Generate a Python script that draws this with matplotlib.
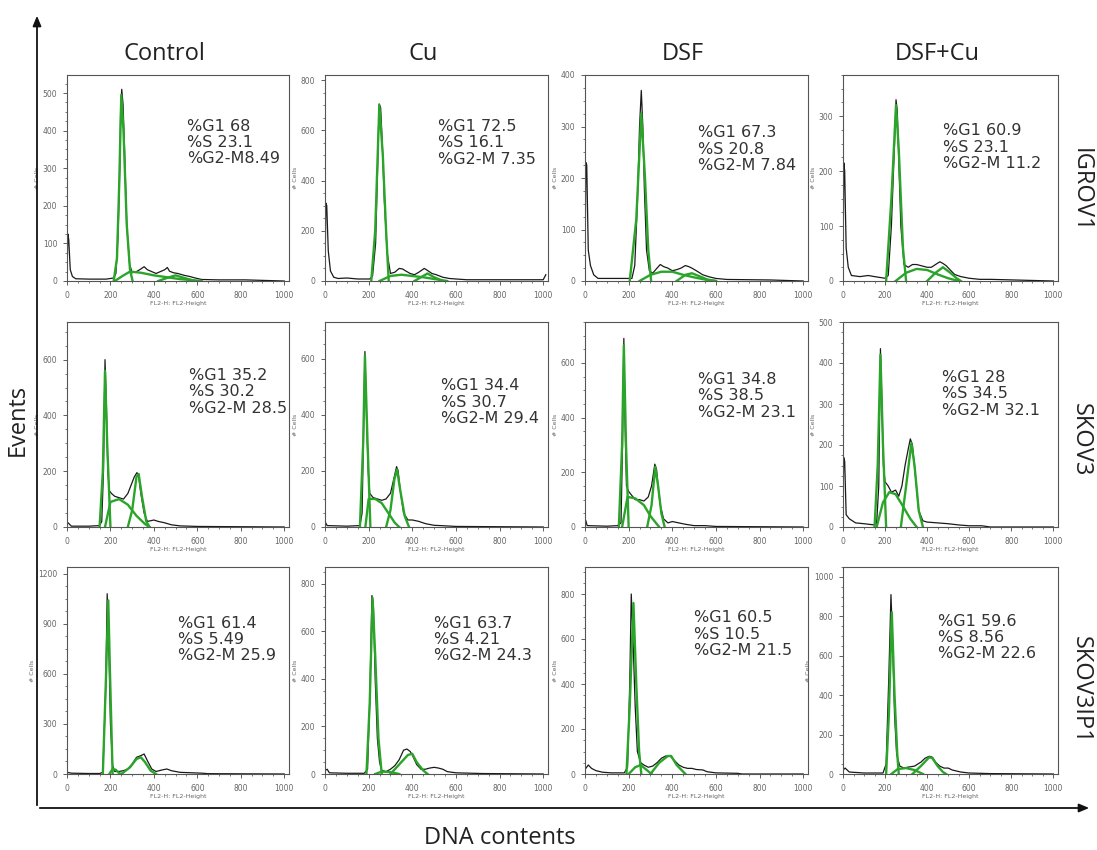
import matplotlib
matplotlib.use("Agg")
import matplotlib.pyplot as plt
from matplotlib.ticker import MultipleLocator, AutoMinorLocator

# panel grid: rows = cell lines, columns = treatments
treatments = ["Control", "Cu", "DSF", "DSF+Cu"]
cell_lines = ["IGROV1", "SKOV3", "SKOV3IP1"]

# cell-cycle percentages shown on each panel
pct_g1 = [[68, 72.5, 67.3, 60.9], [35.2, 34.4, 34.8, 28], [61.4, 63.7, 60.5, 59.6]]
pct_s = [[23.1, 16.1, 20.8, 23.1], [30.2, 30.7, 38.5, 34.5], [5.49, 4.21, 10.5, 8.56]]
pct_g2m = [[8.49, 7.35, 7.84, 11.2], [28.5, 29.4, 23.1, 32.1], [25.9, 24.3, 21.5, 22.6]]

# y axis range / tick step of each panel (# cells)
y_max = [[548, 820, 400, 375], [735, 730, 750, 500], [1240, 870, 920, 1050]]
y_step = [[100, 200, 100, 100], [200, 200, 200, 100], [300, 200, 200, 200]]

# measured histograms (FL2-H channel, # cells), one list per treatment
black_igrov1 = [
    [(0, 20), (4, 125), (8, 110), (15, 30), (25, 12), (40, 6), (100, 5), (180, 5), (215, 8), (225, 20),
     (235, 120), (243, 300), (247, 460), (252, 510), (258, 470), (265, 350), (275, 150), (288, 45),
     (300, 22), (320, 25), (340, 32), (355, 38), (370, 30), (390, 25), (410, 20), (430, 25), (450, 30),
     (462, 36), (472, 26), (490, 22), (510, 20), (540, 15), (565, 12), (590, 8), (620, 4), (700, 3),
     (820, 3), (1000, 0)],
    [(0, 30), (4, 310), (8, 300), (15, 120), (25, 40), (40, 15), (60, 10), (100, 12), (150, 8),
     (205, 8), (218, 20), (232, 150), (242, 480), (248, 705), (255, 690), (262, 560), (272, 320),
     (285, 110), (300, 30), (320, 35), (340, 50), (355, 48), (370, 40), (390, 30), (410, 25), (430, 35),
     (455, 50), (470, 42), (490, 30), (510, 25), (540, 15), (570, 10), (600, 8), (650, 5), (800, 5),
     (1000, 5), (1012, 25)],
    [(0, 20), (4, 230), (8, 225), (15, 60), (25, 30), (40, 12), (60, 5), (120, 5), (215, 5), (228, 30),
     (240, 150), (250, 300), (258, 370), (265, 300), (272, 180), (282, 60), (295, 20), (310, 15),
     (330, 25), (345, 32), (360, 28), (380, 25), (400, 20), (420, 22), (440, 25), (460, 30), (475, 28),
     (490, 25), (510, 20), (540, 12), (570, 8), (600, 5), (650, 3), (850, 2), (1000, 0)],
    [(0, 20), (4, 215), (8, 200), (15, 60), (25, 25), (40, 10), (80, 8), (120, 10), (150, 8), (200, 5),
     (215, 10), (230, 100), (245, 250), (252, 330), (258, 310), (265, 220), (275, 100), (290, 30),
     (310, 25), (330, 30), (350, 30), (370, 28), (400, 25), (420, 25), (440, 30), (460, 35), (475, 32),
     (490, 28), (510, 20), (530, 12), (560, 8), (600, 5), (650, 3), (700, 3), (1000, 0)],
]
black_skov3 = [
    [(0, 10), (5, 15), (20, 3), (100, 3), (150, 5), (160, 20), (168, 200), (175, 600), (181, 450),
     (188, 200), (195, 130), (205, 120), (220, 110), (240, 105), (260, 100), (280, 120), (295, 150),
     (310, 180), (322, 195), (330, 180), (340, 120), (355, 50), (370, 20), (400, 25), (420, 20),
     (450, 15), (480, 8), (520, 4), (600, 2), (1000, 0)],
    [(0, 10), (3, 15), (10, 5), (100, 3), (160, 5), (170, 50), (178, 400), (183, 625), (190, 400),
     (198, 200), (205, 120), (220, 105), (240, 100), (260, 95), (280, 100), (300, 120), (315, 170),
     (328, 215), (335, 200), (345, 130), (360, 50), (380, 25), (400, 25), (430, 20), (460, 12),
     (500, 6), (530, 5), (600, 2), (1000, 0)],
    [(0, 10), (3, 25), (10, 5), (100, 3), (150, 5), (165, 15), (172, 300), (178, 690), (183, 400),
     (190, 150), (200, 130), (210, 120), (230, 100), (250, 100), (270, 95), (290, 110), (305, 150),
     (320, 230), (328, 210), (335, 150), (345, 80), (360, 30), (380, 15), (400, 20), (430, 15),
     (460, 10), (500, 5), (550, 5), (600, 2), (1000, 0)],
    [(0, 20), (3, 170), (8, 160), (15, 30), (30, 20), (60, 10), (100, 8), (150, 5), (160, 10),
     (170, 100), (178, 435), (185, 300), (192, 150), (200, 110), (215, 100), (230, 85), (250, 90),
     (265, 75), (280, 100), (295, 150), (310, 190), (320, 215), (330, 200), (345, 120), (360, 40),
     (380, 15), (400, 12), (450, 10), (500, 8), (550, 5), (600, 3), (660, 3), (700, 0), (1000, 0)],
]
black_skov3ip1 = [
    [(0, 10), (20, 5), (100, 3), (150, 3), (165, 10), (178, 500), (185, 1080), (192, 800), (200, 300),
     (210, 50), (220, 15), (240, 15), (260, 20), (280, 30), (300, 60), (320, 100), (340, 110),
     (355, 120), (370, 80), (390, 30), (410, 15), (440, 25), (460, 30), (480, 20), (520, 10), (560, 8),
     (620, 5), (650, 2), (1000, 0)],
    [(0, 15), (10, 20), (20, 5), (100, 3), (180, 3), (195, 20), (205, 300), (215, 750), (222, 700),
     (230, 400), (240, 150), (250, 50), (260, 15), (280, 10), (300, 20), (320, 35), (340, 60),
     (360, 100), (375, 105), (390, 95), (400, 80), (420, 40), (440, 20), (460, 20), (480, 25),
     (500, 28), (520, 25), (540, 20), (560, 10), (600, 5), (720, 2), (1000, 0)],
    [(0, 20), (15, 40), (30, 25), (50, 15), (80, 8), (120, 5), (180, 5), (195, 30), (205, 400),
     (212, 800), (220, 600), (230, 300), (240, 100), (255, 50), (270, 40), (290, 30), (310, 35),
     (330, 50), (350, 70), (370, 80), (390, 80), (410, 60), (430, 40), (450, 30), (470, 25), (490, 25),
     (510, 20), (540, 18), (560, 10), (600, 5), (700, 3), (720, 0), (1000, 0)],
    [(0, 20), (10, 30), (30, 10), (100, 5), (190, 5), (205, 50), (218, 500), (228, 910), (235, 700),
     (245, 300), (255, 100), (270, 40), (290, 30), (310, 35), (340, 40), (370, 60), (390, 80),
     (410, 90), (425, 85), (440, 60), (460, 40), (480, 30), (500, 30), (520, 20), (560, 10), (600, 5),
     (700, 2), (1000, 0)],
]

# fitted G1 / S / G2-M components (green), one list per treatment
g1_igrov1 = [
    [(215, 0), (230, 60), (240, 250), (250, 495), (260, 400), (275, 150), (290, 30), (302, 0)],
    [(212, 0), (230, 200), (249, 700), (265, 500), (280, 200), (292, 0)],
    [(205, 0), (235, 120), (258, 325), (275, 200), (290, 60), (303, 0)],
    [(205, 0), (230, 150), (252, 320), (265, 240), (285, 60), (300, 0)],
]
s_igrov1 = [
    [(220, 0), (260, 15), (290, 25), (340, 22), (400, 15), (460, 10), (520, 5), (580, 2), (620, 0)],
    [(250, 0), (300, 20), (350, 25), (400, 20), (450, 15), (500, 8), (560, 0)],
    [(250, 0), (300, 12), (350, 18), (400, 18), (450, 12), (500, 7), (560, 2), (600, 0)],
    [(250, 0), (300, 15), (350, 22), (400, 20), (450, 12), (500, 5), (550, 0)],
]
g2m_igrov1 = [
    [(420, 0), (460, 8), (500, 15), (540, 8), (590, 0)],
    [(410, 0), (440, 15), (470, 30), (500, 15), (540, 0)],
    [(420, 0), (460, 12), (490, 15), (520, 10), (560, 3), (600, 0)],
    [(400, 0), (440, 15), (475, 25), (510, 15), (540, 5), (560, 0)],
]
g1_skov3 = [
    [(150, 0), (165, 200), (175, 560), (185, 300), (200, 0)],
    [(160, 0), (175, 300), (183, 610), (195, 300), (208, 0)],
    [(155, 0), (170, 300), (178, 665), (188, 300), (200, 0)],
    [(150, 0), (165, 150), (178, 420), (190, 200), (205, 0)],
]
s_skov3 = [
    [(175, 0), (200, 90), (240, 100), (280, 80), (320, 40), (360, 10), (380, 0)],
    [(185, 0), (200, 100), (230, 100), (260, 85), (290, 50), (320, 15), (340, 0)],
    [(170, 0), (195, 110), (230, 105), (270, 80), (300, 40), (340, 0)],
    [(160, 0), (190, 60), (220, 85), (250, 80), (280, 55), (320, 20), (350, 0)],
]
g2m_skov3 = [
    [(280, 0), (300, 60), (320, 180), (330, 190), (345, 110), (365, 20), (380, 0)],
    [(280, 0), (300, 60), (318, 170), (330, 205), (345, 130), (365, 40), (385, 0)],
    [(285, 0), (305, 80), (322, 220), (335, 150), (350, 50), (365, 0)],
    [(275, 0), (300, 100), (325, 205), (340, 150), (360, 40), (380, 0)],
]
g1_skov3ip1 = [
    [(165, 0), (180, 600), (190, 1040), (198, 600), (210, 0)],
    [(190, 0), (205, 300), (218, 740), (230, 500), (245, 150), (260, 0)],
    [(190, 0), (205, 300), (222, 760), (235, 400), (248, 100), (258, 0)],
    [(205, 0), (218, 300), (232, 820), (245, 400), (258, 100), (265, 0)],
]
s_skov3ip1 = [
    [(195, 0), (210, 30), (225, 25), (240, 5), (250, 0)],
    [(230, 0), (260, 10), (300, 8), (340, 0)],
    [(200, 0), (230, 30), (255, 40), (280, 20), (305, 0)],
    [(230, 0), (260, 25), (300, 30), (340, 20), (380, 0)],
]
g2m_skov3ip1 = [
    [(250, 0), (290, 40), (320, 90), (340, 100), (360, 70), (385, 20), (410, 0)],
    [(300, 0), (340, 40), (380, 80), (400, 85), (420, 50), (450, 15), (470, 0)],
    [(300, 0), (340, 50), (380, 80), (395, 80), (420, 40), (450, 10), (460, 0)],
    [(330, 0), (370, 40), (410, 85), (425, 80), (450, 40), (475, 10), (490, 0)],
]

black = [black_igrov1, black_skov3, black_skov3ip1]
fits = [(g1_igrov1, s_igrov1, g2m_igrov1),
        (g1_skov3, s_skov3, g2m_skov3),
        (g1_skov3ip1, s_skov3ip1, g2m_skov3ip1)]

# layout (pixels of the 1097x850 figure)
W, H = 1097, 850
col_left = [67, 325, 585, 843]
col_right = [289, 548, 808, 1058]
row_top = [75, 322, 567]
row_bottom = [281, 527, 774]
text_x = [[0.54, 0.507, 0.507, 0.467], [0.55, 0.52, 0.507, 0.46], [0.50, 0.49, 0.49, 0.44]]
text_y = [[0.743, 0.74, 0.71, 0.72], [0.73, 0.68, 0.71, 0.72], [0.72, 0.72, 0.745, 0.73]]
row_label_y = [190, 440, 690]

GREEN = "#2aa52a"
GREY = "#666666"

fig = plt.figure(figsize=(W / 100, H / 100), dpi=100)

for r in range(3):
    for c in range(4):
        ax = fig.add_axes([col_left[c] / W, 1 - row_bottom[r] / H,
                           (col_right[c] - col_left[c]) / W, (row_bottom[r] - row_top[r]) / H])
        pts = black[r][c]
        ax.plot([p[0] for p in pts], [p[1] for p in pts], color="#1a1a1a", lw=0.9)
        for comp in fits[r]:
            cp = comp[c]
            ax.plot([p[0] for p in cp], [p[1] for p in cp], color=GREEN, lw=1.7)

        ax.set_xlim(0, 1022)
        ax.set_ylim(0, y_max[r][c])
        ax.xaxis.set_major_locator(MultipleLocator(200))
        ax.xaxis.set_minor_locator(AutoMinorLocator(4))
        ax.yaxis.set_major_locator(MultipleLocator(y_step[r][c]))
        ax.yaxis.set_minor_locator(AutoMinorLocator(4))
        ax.tick_params(which="major", length=3, width=0.6, labelsize=5.5, colors="#444444",
                       labelcolor=GREY, pad=4)
        ax.tick_params(which="minor", length=1.5, width=0.5, colors="#444444")
        for sp in ax.spines.values():
            sp.set_color("#555555")
            sp.set_linewidth(0.8)
        ax.set_xlabel("FL2-H: FL2-Height", fontsize=4.5, color=GREY, labelpad=1)
        ax.set_ylabel("# Cells", fontsize=4.5, color=GREY, labelpad=2)

        sep = "" if (r, c) == (0, 0) else " "
        label = (f"%G1 {pct_g1[r][c]:g}\n%S {pct_s[r][c]:g}\n"
                 f"%G2-M{sep}{pct_g2m[r][c]:g}")
        ax.text(text_x[r][c], text_y[r][c] + 0.045, label, transform=ax.transAxes,
                fontsize=11.5, color="#333333", va="top", ha="left", linespacing=1.1,
                family="DejaVu Sans")

        if r == 0:
            ax.text(0.44, 1.1, treatments[c], transform=ax.transAxes, ha="center",
                    va="center", fontsize=17, color="#222222", family="Open Sans")

for r in range(3):
    fig.text(1081 / W, 1 - row_label_y[r] / H, cell_lines[r], rotation=-90, ha="center",
             va="center", fontsize=17, color="#222222", family="Open Sans")

# outer axes arrows
fig.add_artist(matplotlib.patches.FancyArrowPatch(
    (37 / W, 1 - 808 / H), (37 / W, 1 - 13 / H), transform=fig.transFigure,
    arrowstyle="-|>,head_length=6,head_width=2.5", color="#111111", lw=1.3))
fig.add_artist(matplotlib.patches.FancyArrowPatch(
    (37 / W, 1 - 808 / H), (1092 / W, 1 - 808 / H), transform=fig.transFigure,
    arrowstyle="-|>,head_length=6,head_width=2.5", color="#111111", lw=1.3))
fig.text(18 / W, 1 - 420 / H, "Events", rotation=90, ha="center", va="center",
         fontsize=17, color="#222222", family="Open Sans")
fig.text(500 / W, 1 - 838 / H, "DNA contents", ha="center", va="center",
         fontsize=17, color="#222222", family="Open Sans")

fig.savefig("out.png", dpi=100)
